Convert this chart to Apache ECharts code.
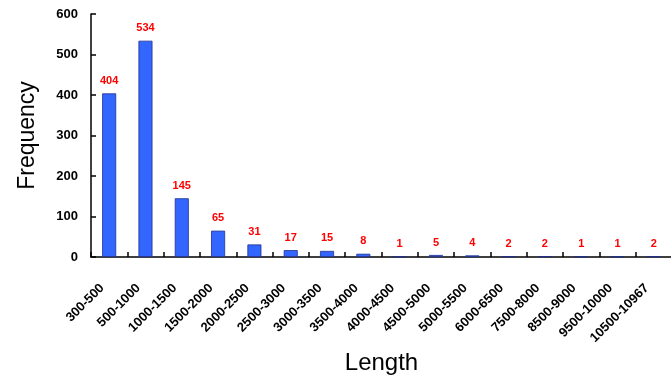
<!DOCTYPE html>
<html>
<head>
<meta charset="utf-8">
<script src="https://cdn.jsdelivr.net/npm/echarts@6/dist/echarts.min.js"></script>
<style>html,body{margin:0;padding:0;background:#fff}#c{width:671px;height:379px}</style>
</head>
<body>
<div id="c"></div>
<script>
const categories = ["300-500","500-1000","1000-1500","1500-2000","2000-2500","2500-3000","3000-3500","3500-4000","4000-4500","4500-5000","5000-5500","6000-6500","7500-8000","8500-9000","9500-10000","10500-10967"];
const frequency = [404,534,145,65,31,17,15,8,1,5,4,2,2,1,1,2];
const yTicks = [0,100,200,300,400,500,600];

const chart = echarts.init(document.getElementById('c'), null, {renderer:'canvas'});
chart.setOption({
  animation:false,
  backgroundColor:'#fff',
  grid:{left:91,right:-1,top:14,bottom:122,containLabel:false,outerBoundsMode:'none'},
  xAxis:{
    type:'category',
    data:categories,
    name:'Length',
    nameLocation:'middle',
    nameGap:82,
    nameTextStyle:{fontFamily:'Liberation Sans, Arial',fontSize:24,color:'#000'},
    axisLine:{lineStyle:{color:'#000',width:1.5}},
    axisTick:{show:true,interval:0,alignWithLabel:false,inside:true,length:5,lineStyle:{color:'#000',width:1.5}},
    axisLabel:{rotate:45,interval:0,fontFamily:'Liberation Sans, Arial',fontWeight:'bold',fontSize:13,color:'#000',margin:22,padding:[0,10,0,0]}
  },
  yAxis:{
    type:'value',
    min:yTicks[0],max:yTicks[yTicks.length-1],interval:100,
    name:'Frequency',
    nameLocation:'middle',
    nameGap:52,
    nameTextStyle:{fontFamily:'Liberation Sans, Arial',fontSize:23,color:'#000'},
    axisLine:{show:true,lineStyle:{color:'#000',width:1.5}},
    axisTick:{show:true,inside:true,length:5,lineStyle:{color:'#000',width:1.5}},
    splitLine:{show:false},
    axisLabel:{fontFamily:'Liberation Sans, Arial',fontWeight:'bold',fontSize:13,color:'#000',margin:13}
  },
  series:[{
    type:'bar',
    data:frequency,
    barWidth:14,
    itemStyle:{color:'#3366FF',borderColor:'#1f2f8f',borderWidth:0.8},
    label:{show:true,position:'top',distance:7,color:'#FF0000',fontWeight:'bold',fontSize:11,fontFamily:'Liberation Sans, Arial'}
  }]
});
</script>
</body>
</html>
